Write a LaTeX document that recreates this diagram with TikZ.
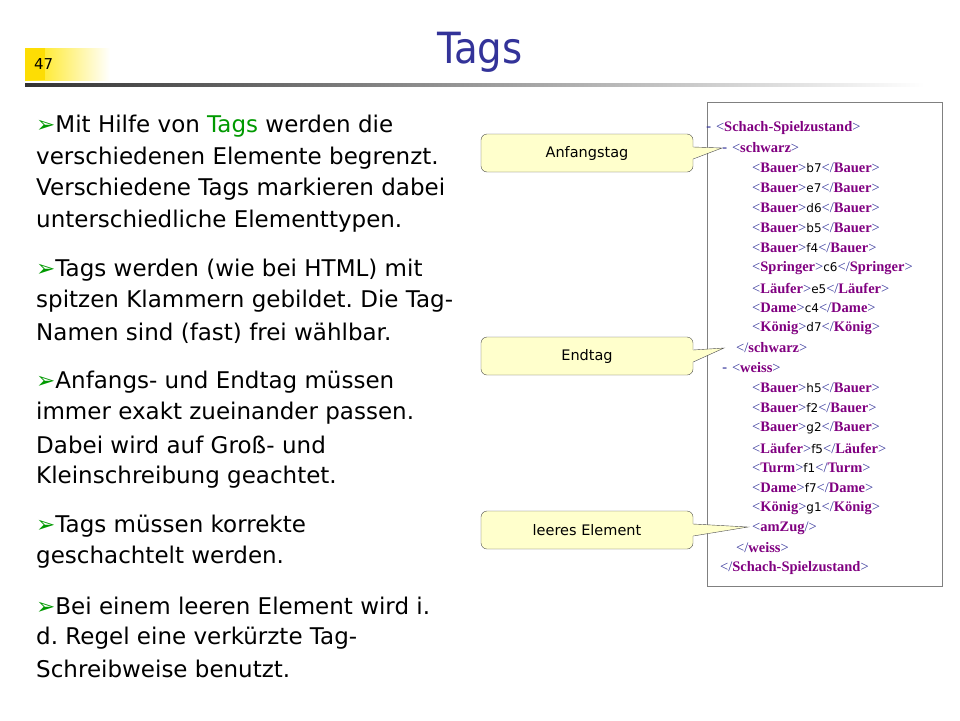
\documentclass[tikz,border=0pt]{standalone}
\usepackage{fontspec}
\setmainfont{DejaVu Sans}
\newfontfamily\xmlserif{Liberation Serif}
\newfontfamily\titlefont{DejaVu Sans Condensed}
\usetikzlibrary{positioning}
\definecolor{titleblue}{RGB}{51,51,153}
\definecolor{taggreen}{RGB}{0,153,0}
\definecolor{xmlpurple}{RGB}{128,0,128}
\definecolor{calloutfill}{RGB}{255,255,204}
\frenchspacing
\newcommand{\bul}{\textcolor{taggreen}{\char"27A2}}
\newcommand{\xt}[1]{{\xmlserif\bfseries\textcolor{xmlpurple}{#1}}}
\newcommand{\xl}{{\xmlserif\textcolor{titleblue}{<}}}
\newcommand{\xr}{{\xmlserif\textcolor{titleblue}{>}}}
\newcommand{\xs}{{\xmlserif\textcolor{titleblue}{</}}}
\newcommand{\xe}[2]{\xl\xt{#1}\xr{\fontsize{12}{14}\selectfont#2}\xs\xt{#1}\xr}
\begin{document}
\begin{tikzpicture}[x=1pt,y=-1pt,
    body/.style={anchor=west,inner sep=0pt,font=\fontsize{23}{27}\selectfont},
    xmlline/.style={anchor=west,inner sep=0pt,font=\fontsize{14.5}{16}\selectfont},
    callout/.style={draw=black!70,fill=calloutfill,rounded corners=6pt,minimum width=212pt,minimum height=38pt,font=\fontsize{14.5}{16}\selectfont}]
  \useasboundingbox (0,0) rectangle (960,720);
  % header
  \shade[left color=yellow!80!orange,right color=white] (25,48) rectangle (110,80);
  \fill[yellow!80!orange] (25,48) rectangle (45,80);
  \node[anchor=west,inner sep=0pt,font=\fontsize{15}{17}\selectfont] (num) at (34,64) {47};
  \node[inner sep=0pt,text=titleblue,font=\titlefont\fontsize{43}{46}\selectfont] (title) at (480,52) {Tags};
  \shade[left color=black!80,right color=white] (25,83) rectangle (925,86);
  % bullet text
  \node[body] (t1) at (36,126) {\bul Mit Hilfe von \textcolor{taggreen}{Tags} werden die};
  \node[body] (t2) at (36,158) {verschiedenen Elemente begrenzt.};
  \node[body] (t3) at (36,189) {Verschiedene Tags markieren dabei};
  \node[body] (t4) at (36,221) {unterschiedliche Elementtypen.};
  \node[body] (t5) at (36,270) {\bul Tags werden (wie bei HTML) mit};
  \node[body] (t6) at (36,301) {spitzen Klammern gebildet. Die Tag-};
  \node[body] (t7) at (36,333) {Namen sind (fast) frei wählbar.};
  \node[body] (t8) at (36,382) {\bul Anfangs- und Endtag müssen};
  \node[body] (t9) at (36,413) {immer exakt zueinander passen.};
  \node[body] (t10) at (36,445) {Dabei wird auf Groß- und};
  \node[body] (t11) at (36,477) {Kleinschreibung geachtet.};
  \node[body] (t12) at (36,526) {\bul Tags müssen korrekte};
  \node[body] (t13) at (36,557) {geschachtelt werden.};
  \node[body] (t14) at (36,606) {\bul Bei einem leeren Element wird i.};
  \node[body] (t15) at (36,638) {d. Regel eine verkürzte Tag-};
  \node[body] (t16) at (36,669) {Schreibweise benutzt.};
  % xml panel
  \draw[black!50] (707,102) rectangle (942,586);
  \node[xmlline] (x1) at (706,128) {\textcolor{titleblue}{-} \xl\xt{Schach-Spielzustand}\xr};
  \node[xmlline] (x2) at (722,148) {\textcolor{titleblue}{-} \xl\xt{schwarz}\xr};
  \foreach \tg/\v [count=\i] in {Bauer/b7,Bauer/e7,Bauer/d6,Bauer/b5,Bauer/f4,Springer/c6,Läufer/e5,Dame/c4,König/d7}
    \node[xmlline] at (752,148+20*\i) {\xe{\tg}{\v}};
  \node[xmlline] (x12) at (736,348) {\xs\xt{schwarz}\xr};
  \node[xmlline] (x13) at (722,368) {\textcolor{titleblue}{-} \xl\xt{weiss}\xr};
  \foreach \tg/\v [count=\i] in {Bauer/h5,Bauer/f2,Bauer/g2,Läufer/f5,Turm/f1,Dame/f7,König/g1}
    \node[xmlline] at (752,368+20*\i) {\xe{\tg}{\v}};
  \node[xmlline] (x21) at (752,528) {\xl\xt{amZug}{\xmlserif\textcolor{titleblue}{/>}}};
  \node[xmlline] (x22) at (736,548) {\xs\xt{weiss}\xr};
  \node[xmlline] (x23) at (720,568) {\xs\xt{Schach-Spielzustand}\xr};
  % callouts
  \node[callout] (anf) at (587,153) {Anfangstag};
  \node[callout] (end) at (587,356) {Endtag};
  \node[callout] (leer) at (587,530) {leeres Element};
  \coordinate (panf) at (722,148);
  \coordinate (pend) at (724,348);
  \coordinate (pleer) at (748,527);
  \foreach \c/\p in {anf/panf,end/pend,leer/pleer} {
    \fill[calloutfill] ([shift={(-1,-6)}]\c.east) -- (\p) -- ([shift={(-1,6)}]\c.east) -- cycle;
    \draw[black!70] ([yshift=-6]\c.east) -- (\p) -- ([yshift=6]\c.east);
  }
\end{tikzpicture}
\end{document}
